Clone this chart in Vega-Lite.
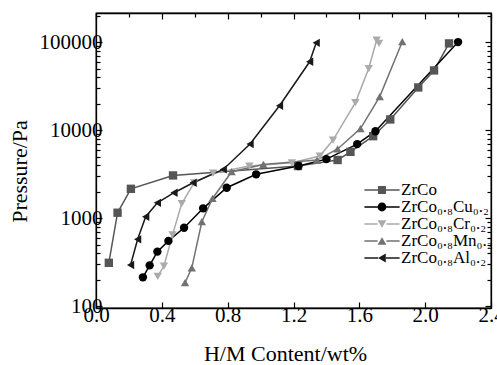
{
  "$schema": "https://vega.github.io/schema/vega-lite/v6.json",
  "width": 395,
  "height": 295,
  "autosize": {"type": "none"},
  "padding": {"left": 96, "top": 13, "right": 6, "bottom": 57},
  "background": "white",
  "config": {
    "font": "Liberation Serif, Times New Roman, serif",
    "view": {"stroke": "black", "strokeWidth": 1.3},
    "style": {
      "guide-label": {"font": "Liberation Serif, Times New Roman, serif"},
      "guide-title": {"font": "Liberation Serif, Times New Roman, serif"}
    },
    "axis": {
      "grid": false,
      "domainColor": "black",
      "domainWidth": 1.3,
      "tickColor": "black",
      "tickWidth": 1.2,
      "labelColor": "black",
      "labelFont": "Liberation Serif, Times New Roman, serif",
      "labelFontSize": 21,
      "titleFont": "Liberation Serif, Times New Roman, serif",
      "titleFontSize": 22,
      "titleFontWeight": "normal",
      "titleColor": "black",
      "labelFlush": false,
      "labelOverlap": false
    },
    "legend": {
      "labelFont": "Liberation Serif, Times New Roman, serif"
    }
  },
  "layer": [
    {
      "data": {
        "values": [
          {"s": "ZrCo", "x": 0.078, "p": 310},
          {"s": "ZrCo", "x": 0.131, "p": 1150},
          {"s": "ZrCo", "x": 0.212, "p": 2150},
          {"s": "ZrCo", "x": 0.468, "p": 3050},
          {"s": "ZrCo", "x": 1.227, "p": 3900},
          {"s": "ZrCo", "x": 1.468, "p": 4570},
          {"s": "ZrCo", "x": 1.546, "p": 5660},
          {"s": "ZrCo", "x": 1.684, "p": 8520},
          {"s": "ZrCo", "x": 1.788, "p": 13200},
          {"s": "ZrCo", "x": 1.958, "p": 30500},
          {"s": "ZrCo", "x": 2.054, "p": 47600},
          {"s": "ZrCo", "x": 2.145, "p": 96600},
          {"s": "ZrCo₀.₈Cu₀.₂", "x": 0.285, "p": 212},
          {"s": "ZrCo₀.₈Cu₀.₂", "x": 0.326, "p": 290},
          {"s": "ZrCo₀.₈Cu₀.₂", "x": 0.373, "p": 415},
          {"s": "ZrCo₀.₈Cu₀.₂", "x": 0.44, "p": 550},
          {"s": "ZrCo₀.₈Cu₀.₂", "x": 0.535, "p": 775},
          {"s": "ZrCo₀.₈Cu₀.₂", "x": 0.651, "p": 1290},
          {"s": "ZrCo₀.₈Cu₀.₂", "x": 0.794, "p": 2210},
          {"s": "ZrCo₀.₈Cu₀.₂", "x": 0.973, "p": 3140},
          {"s": "ZrCo₀.₈Cu₀.₂", "x": 1.23, "p": 3900},
          {"s": "ZrCo₀.₈Cu₀.₂", "x": 1.4, "p": 4670},
          {"s": "ZrCo₀.₈Cu₀.₂", "x": 1.587, "p": 6930},
          {"s": "ZrCo₀.₈Cu₀.₂", "x": 1.698, "p": 9700},
          {"s": "ZrCo₀.₈Cu₀.₂", "x": 2.2, "p": 100000},
          {"s": "ZrCo₀.₈Cr₀.₂", "x": 0.375, "p": 218},
          {"s": "ZrCo₀.₈Cr₀.₂", "x": 0.413, "p": 285},
          {"s": "ZrCo₀.₈Cr₀.₂", "x": 0.465, "p": 645},
          {"s": "ZrCo₀.₈Cr₀.₂", "x": 0.521, "p": 1460},
          {"s": "ZrCo₀.₈Cr₀.₂", "x": 0.596, "p": 2510},
          {"s": "ZrCo₀.₈Cr₀.₂", "x": 0.712, "p": 3230},
          {"s": "ZrCo₀.₈Cr₀.₂", "x": 0.932, "p": 3900},
          {"s": "ZrCo₀.₈Cr₀.₂", "x": 1.19, "p": 4250},
          {"s": "ZrCo₀.₈Cr₀.₂", "x": 1.36, "p": 5070},
          {"s": "ZrCo₀.₈Cr₀.₂", "x": 1.44, "p": 7700},
          {"s": "ZrCo₀.₈Cr₀.₂", "x": 1.576, "p": 20500},
          {"s": "ZrCo₀.₈Cr₀.₂", "x": 1.657, "p": 50000},
          {"s": "ZrCo₀.₈Cr₀.₂", "x": 1.705, "p": 105000},
          {"s": "ZrCo₀.₈Cr₀.₂", "x": 1.72, "p": 96700},
          {"s": "ZrCo₀.₈Mn₀.₂", "x": 0.541, "p": 184},
          {"s": "ZrCo₀.₈Mn₀.₂", "x": 0.582, "p": 272},
          {"s": "ZrCo₀.₈Mn₀.₂", "x": 0.643, "p": 908},
          {"s": "ZrCo₀.₈Mn₀.₂", "x": 0.708, "p": 1670},
          {"s": "ZrCo₀.₈Mn₀.₂", "x": 0.824, "p": 3360},
          {"s": "ZrCo₀.₈Mn₀.₂", "x": 1.017, "p": 4070},
          {"s": "ZrCo₀.₈Mn₀.₂", "x": 1.343, "p": 4560},
          {"s": "ZrCo₀.₈Mn₀.₂", "x": 1.468, "p": 6100},
          {"s": "ZrCo₀.₈Mn₀.₂", "x": 1.607, "p": 10400},
          {"s": "ZrCo₀.₈Mn₀.₂", "x": 1.724, "p": 24000},
          {"s": "ZrCo₀.₈Mn₀.₂", "x": 1.861, "p": 101000},
          {"s": "ZrCo₀.₈Al₀.₂", "x": 0.21, "p": 293},
          {"s": "ZrCo₀.₈Al₀.₂", "x": 0.253, "p": 573},
          {"s": "ZrCo₀.₈Al₀.₂", "x": 0.302, "p": 1035},
          {"s": "ZrCo₀.₈Al₀.₂", "x": 0.373, "p": 1490},
          {"s": "ZrCo₀.₈Al₀.₂", "x": 0.474, "p": 1940},
          {"s": "ZrCo₀.₈Al₀.₂", "x": 0.59, "p": 2520},
          {"s": "ZrCo₀.₈Al₀.₂", "x": 0.773, "p": 3570},
          {"s": "ZrCo₀.₈Al₀.₂", "x": 0.936, "p": 6930},
          {"s": "ZrCo₀.₈Al₀.₂", "x": 1.115, "p": 18900},
          {"s": "ZrCo₀.₈Al₀.₂", "x": 1.298, "p": 59700},
          {"s": "ZrCo₀.₈Al₀.₂", "x": 1.338, "p": 98000}
        ]
      },
      "layer": [
        {
          "mark": {"type": "line", "strokeWidth": 1.5},
          "encoding": {
            "x": {
              "field": "x", "type": "quantitative",
              "scale": {"domain": [0, 2.4], "nice": false, "zero": false},
              "axis": {
                "orient": "bottom",
                "values": [0, 0.2, 0.4, 0.6, 0.8, 1.0, 1.2, 1.4, 1.6, 1.8, 2.0, 2.2, 2.4],
                "labelExpr": "(round(datum.value*10) % 4 == 0) ? format(datum.value, '.1f') : ''",
                "tickSize": {"condition": {"test": "round(datum.value*10) % 4 == 0", "value": -6}, "value": -4},
                "labelPadding": 2,
                "labelFont": "Liberation Serif, Times New Roman, serif",
                "titleFont": "Liberation Serif, Times New Roman, serif",
                "title": "H/M Content/wt%",
                "titleX": 189,
                "titleY": 45,
                "titleBaseline": "middle",
                "titleAlign": "center"
              }
            },
            "y": {
              "field": "p", "type": "quantitative",
              "scale": {"type": "log", "domain": [95, 214000], "nice": false},
              "axis": {
                "orient": "left",
                "values": [100, 200, 300, 400, 500, 600, 700, 800, 900, 1000, 2000, 3000, 4000, 5000, 6000, 7000, 8000, 9000, 10000, 20000, 30000, 40000, 50000, 60000, 70000, 80000, 90000, 100000, 200000],
                "format": "d",
                "labelExpr": "indexof([100,1000,10000,100000], datum.value) >= 0 ? datum.label : ''",
                "tickSize": {"condition": {"test": "indexof([100,1000,10000,100000], datum.value) >= 0", "value": -6}, "value": -4},
                "labelPadding": 0,
                "labelFont": "Liberation Serif, Times New Roman, serif",
                "titleFont": "Liberation Serif, Times New Roman, serif",
                "title": "Pressure/Pa",
                "titleX": -77,
                "titleY": 158,
                "titleAngle": 270,
                "titleBaseline": "middle",
                "titleAlign": "center"
              }
            },
            "color": {
              "field": "s", "type": "nominal",
              "scale": {"domain": ["ZrCo", "ZrCo₀.₈Cu₀.₂", "ZrCo₀.₈Cr₀.₂", "ZrCo₀.₈Mn₀.₂", "ZrCo₀.₈Al₀.₂"], "range": ["#555555", "#000000", "#aaaaaa", "#727272", "#1a1a1a"]},
              "legend": null
            }
          }
        },
        {
          "mark": {"type": "point", "filled": true, "size": 70, "opacity": 1},
          "encoding": {
            "x": {"field": "x", "type": "quantitative"},
            "y": {"field": "p", "type": "quantitative"},
            "color": {"field": "s", "type": "nominal", "legend": null},
            "shape": {
              "field": "s", "type": "nominal",
              "scale": {"domain": ["ZrCo", "ZrCo₀.₈Cu₀.₂", "ZrCo₀.₈Cr₀.₂", "ZrCo₀.₈Mn₀.₂", "ZrCo₀.₈Al₀.₂"], "range": ["square", "circle", "triangle-down", "triangle-up", "triangle-left"]},
              "legend": null
            }
          }
        }
      ]
    },
    {
      "data": {"values": []},
      "mark": {"type": "point", "filled": true, "size": 310, "opacity": 1},
      "encoding": {
        "x": {
          "field": "x", "type": "quantitative",
          "scale": {"domain": [0, 2.4], "nice": false, "zero": false},
          "axis": {
            "orient": "top",
            "values": [0, 0.2, 0.4, 0.6, 0.8, 1.0, 1.2, 1.4, 1.6, 1.8, 2.0, 2.2, 2.4],
            "labels": false,
            "title": null,
            "tickSize": {"condition": {"test": "round(datum.value*10) % 4 == 0", "value": -6}, "value": -4}
          }
        },
        "y": {
          "field": "p", "type": "quantitative",
          "scale": {"type": "log", "domain": [95, 214000], "nice": false},
          "axis": {
            "orient": "right",
            "values": [100, 200, 300, 400, 500, 600, 700, 800, 900, 1000, 2000, 3000, 4000, 5000, 6000, 7000, 8000, 9000, 10000, 20000, 30000, 40000, 50000, 60000, 70000, 80000, 90000, 100000, 200000],
            "labels": false,
            "title": null,
            "tickSize": {"condition": {"test": "indexof([100,1000,10000,100000], datum.value) >= 0", "value": -6}, "value": -4}
          }
        },
        "color": {
          "field": "s", "type": "nominal",
          "scale": {"domain": ["ZrCo", "ZrCo₀.₈Cu₀.₂", "ZrCo₀.₈Cr₀.₂", "ZrCo₀.₈Mn₀.₂", "ZrCo₀.₈Al₀.₂"], "range": ["#555555", "#000000", "#aaaaaa", "#727272", "#1a1a1a"]},
          "legend": {
            "orient": "none", "legendX": 277, "legendY": 168, "title": null,
            "padding": 0, "rowPadding": 0, "labelOffset": 10,
            "labelFont": "Liberation Serif, Times New Roman, serif", "labelFontSize": 17, "labelColor": "black", "labelLimit": 200,
            "symbolSize": 310, "symbolStrokeWidth": 0, "symbolOpacity": 1
          }
        },
        "shape": {
          "field": "s", "type": "nominal",
          "scale": {
            "domain": ["ZrCo", "ZrCo₀.₈Cu₀.₂", "ZrCo₀.₈Cr₀.₂", "ZrCo₀.₈Mn₀.₂", "ZrCo₀.₈Al₀.₂"],
            "range": [
              "M-2,-0.08H-0.45V0.08H-2Z M0.45,-0.08H2V0.08H0.45Z M-0.45,-0.45H0.45V0.45H-0.45Z",
              "M-2,-0.08H-0.45V0.08H-2Z M0.45,-0.08H2V0.08H0.45Z M0.5,0 A0.5,0.5 0 1,1 -0.5,0 A0.5,0.5 0 1,1 0.5,0 Z",
              "M-2,-0.08H-0.5V0.08H-2Z M0.5,-0.08H2V0.08H0.5Z M-0.5,-0.43 L0.5,-0.43 L0,0.43 Z",
              "M-2,-0.08H-0.5V0.08H-2Z M0.5,-0.08H2V0.08H0.5Z M-0.5,0.43 L0.5,0.43 L0,-0.43 Z",
              "M-2,-0.08H-0.45V0.08H-2Z M0.45,-0.08H2V0.08H0.45Z M-0.45,0 L0.43,-0.5 L0.43,0.5 Z"
            ]
          },
          "legend": {
            "orient": "none", "legendX": 277, "legendY": 168, "title": null,
            "padding": 0, "rowPadding": 0, "labelOffset": 10,
            "labelFont": "Liberation Serif, Times New Roman, serif", "labelFontSize": 17, "labelColor": "black", "labelLimit": 200,
            "symbolSize": 310, "symbolStrokeWidth": 0, "symbolOpacity": 1
          }
        }
      }
    }
  ],
  "resolve": {
    "scale": {"color": "independent", "shape": "independent"},
    "axis": {"x": "independent", "y": "independent"}
  }
}
